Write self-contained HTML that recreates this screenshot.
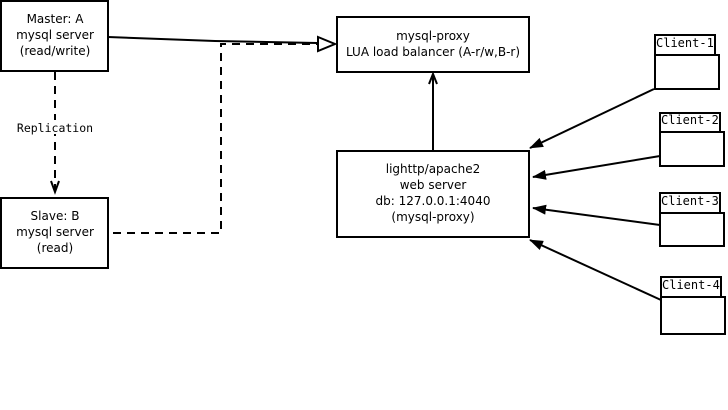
<!DOCTYPE html>
<html><head><style>
html,body{margin:0;padding:0;background:#fff;width:728px;height:410px;overflow:hidden}
svg text{font-family:"DejaVu Sans","Liberation Sans",sans-serif;font-size:12px;fill:#000}
svg text.m{font-family:"DejaVu Sans Mono","Liberation Mono",monospace;font-size:12px}
</style></head><body>
<svg width="728" height="410" xmlns="http://www.w3.org/2000/svg">
<defs>
<marker id="f" markerWidth="14" markerHeight="10" refX="13" refY="5" orient="auto" markerUnits="userSpaceOnUse"><path d="M0,0 L14,5 L0,10 Z" fill="#000"/></marker>
</defs>
<g fill="#fff" stroke="#000" stroke-width="2">
<rect x="1" y="1" width="107" height="70"/>
<rect x="1" y="198" width="107" height="70"/>
<rect x="337" y="17" width="192" height="55"/>
<rect x="337" y="151" width="192" height="86"/>
<rect x="655" y="35" width="60" height="20"/><rect x="655" y="55" width="64" height="34"/>
<rect x="660" y="113" width="60" height="19"/><rect x="660" y="132" width="64" height="34"/>
<rect x="660" y="193" width="60" height="20"/><rect x="660" y="213" width="64" height="33"/>
<rect x="661" y="277" width="60" height="20"/><rect x="661" y="297" width="64" height="37"/>
</g>
<g stroke="#000" stroke-width="2" fill="none">
<polyline points="108,37 215,41 317,43"/>
<polyline points="113,233 221,233 221,44 317,44" stroke-dasharray="8,6"/>
<line x1="55" y1="72" x2="55" y2="190" stroke-dasharray="8,6"/>
<polyline points="51,181 55,192 59,181"/>
<path d="M318,37 L335,44 L318,51 Z" fill="#fff"/>
<line x1="433" y1="151" x2="433" y2="74"/>
<polyline points="429,84 433,74 437,84"/>
<line x1="654" y1="89" x2="530" y2="148" marker-end="url(#f)"/>
<line x1="660" y1="156" x2="533" y2="177" marker-end="url(#f)"/>
<line x1="660" y1="225" x2="533" y2="208" marker-end="url(#f)"/>
<line x1="661" y1="300" x2="530" y2="240" marker-end="url(#f)"/>
</g>
<rect x="14" y="120" width="82" height="14" fill="#fff"/>
<text class="m" x="55" y="132" text-anchor="middle" style="font-size:11.5px">Replication</text>
<g text-anchor="middle">
<text x="55" y="23">Master: A</text><text x="55" y="39">mysql server</text><text x="55" y="55">(read/write)</text>
<text x="55" y="220">Slave: B</text><text x="55" y="236">mysql server</text><text x="55" y="252">(read)</text>
<text x="433" y="40">mysql-proxy</text><text x="433" y="56">LUA load balancer (A-r/w,B-r)</text>
<text x="433" y="173">lighttp/apache2</text><text x="433" y="189">web server</text><text x="433" y="205">db: 127.0.0.1:4040</text><text x="433" y="221">(mysql-proxy)</text>
</g>
<text class="m" x="656" y="47">Client-1</text>
<text class="m" x="661" y="124">Client-2</text>
<text class="m" x="661" y="205">Client-3</text>
<text class="m" x="662" y="289">Client-4</text>
</svg>
</body></html>
